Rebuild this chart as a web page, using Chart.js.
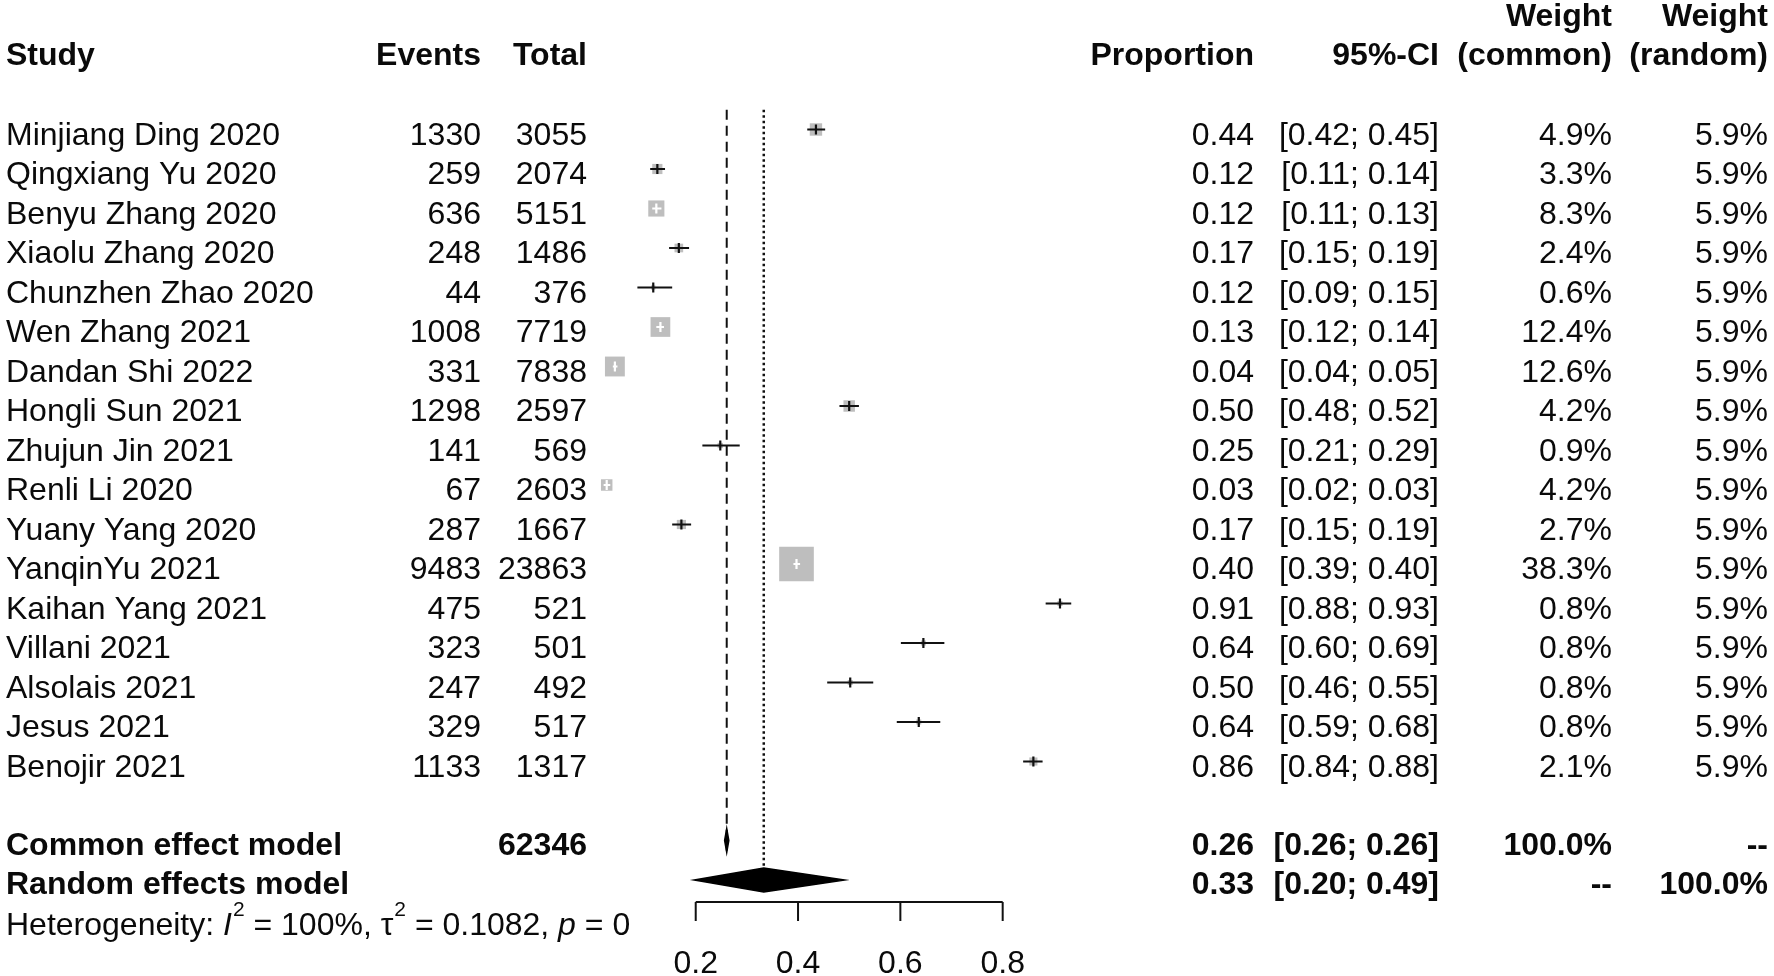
<!DOCTYPE html>
<html>
<head>
<meta charset="utf-8">
<title>Forest plot</title>
<script src="https://cdn.jsdelivr.net/npm/chart.js@4.4.1/dist/chart.umd.min.js"></script>
<style>
  html, body { margin: 0; padding: 0; background: #fff; }
  #wrap { width: 1774px; height: 976px; position: relative; }
</style>
</head>
<body>
<div id="wrap"><canvas id="forest"></canvas></div>
<script>
const studies = [
  "Minjiang Ding 2020", "Qingxiang Yu 2020", "Benyu Zhang 2020", "Xiaolu Zhang 2020",
  "Chunzhen Zhao 2020", "Wen Zhang 2021", "Dandan Shi 2022", "Hongli Sun 2021",
  "Zhujun Jin 2021", "Renli Li 2020", "Yuany Yang 2020", "YanqinYu 2021",
  "Kaihan Yang 2021", "Villani 2021", "Alsolais 2021", "Jesus 2021", "Benojir 2021"
];
const events = [1330, 259, 636, 248, 44, 1008, 331, 1298, 141, 67, 287, 9483, 475, 323, 247, 329, 1133];
const totals = [3055, 2074, 5151, 1486, 376, 7719, 7838, 2597, 569, 2603, 1667, 23863, 521, 501, 492, 517, 1317];

// point estimates and CI limits
const proportion = [0.435, 0.125, 0.123, 0.167, 0.117, 0.131, 0.042, 0.500, 0.248, 0.026, 0.172, 0.397, 0.912, 0.645, 0.502, 0.636, 0.860];
const ciLow  = [0.418, 0.111, 0.115, 0.148, 0.086, 0.123, 0.038, 0.481, 0.213, 0.020, 0.154, 0.391, 0.884, 0.601, 0.457, 0.593, 0.840];
const ciHigh = [0.453, 0.140, 0.133, 0.187, 0.154, 0.138, 0.047, 0.519, 0.286, 0.033, 0.191, 0.404, 0.934, 0.686, 0.547, 0.678, 0.878];

const propLabels = ["0.44", "0.12", "0.12", "0.17", "0.12", "0.13", "0.04", "0.50", "0.25", "0.03", "0.17", "0.40", "0.91", "0.64", "0.50", "0.64", "0.86"];
const ciLabels = [
  "[0.42; 0.45]", "[0.11; 0.14]", "[0.11; 0.13]", "[0.15; 0.19]", "[0.09; 0.15]", "[0.12; 0.14]",
  "[0.04; 0.05]", "[0.48; 0.52]", "[0.21; 0.29]", "[0.02; 0.03]", "[0.15; 0.19]", "[0.39; 0.40]",
  "[0.88; 0.93]", "[0.60; 0.69]", "[0.46; 0.55]", "[0.59; 0.68]", "[0.84; 0.88]"
];
const weightCommon = [4.9, 3.3, 8.3, 2.4, 0.6, 12.4, 12.6, 4.2, 0.9, 4.2, 2.7, 38.3, 0.8, 0.8, 0.8, 0.8, 2.1];
const weightRandom = [5.9, 5.9, 5.9, 5.9, 5.9, 5.9, 5.9, 5.9, 5.9, 5.9, 5.9, 5.9, 5.9, 5.9, 5.9, 5.9, 5.9];

const pooledNames = ["Common effect model", "Random effects model"];
const pooledEst  = [0.2606, 0.333];
const pooledLow  = [0.2565, 0.197];
const pooledHigh = [0.2647, 0.491];
const pooledProp = ["0.26", "0.33"];
const pooledCI = ["[0.26; 0.26]", "[0.20; 0.49]"];
const pooledWCommon = ["100.0%", "--"];
const pooledWRandom = ["--", "100.0%"];
const totalAll = "62346";

const axisTicks = [0.2, 0.4, 0.6, 0.8];
const heterogeneity = [
  ["Heterogeneity: ", "n"], ["I", "i"], ["2", "s"], [" = 100%, ", "n"],
  ["\u03c4", "n"], ["2", "s"], [" = 0.1082, ", "n"], ["p", "i"], [" = 0", "n"]
];

const FONT = '"Liberation Sans", Arial, Helvetica, sans-serif';
const cols = { study: 6, events: 481, total: 587, prop: 1254, ci: 1439, wCommon: 1612, wRandom: 1768 };
const commonRow = studies.length + 1;
const randomRow = studies.length + 2;

function squareSide(w) {
  return 5.6 * Math.sqrt(w);
}

function put(ctx, str, x, y, align, weight) {
  ctx.font = (weight || "normal") + " 32px " + FONT;
  ctx.textAlign = align || "left";
  ctx.textBaseline = "alphabetic";
  ctx.fillStyle = "#0a0a0a";
  ctx.fillText(str, x, y);
}

function diamond(ctx, xs, ys, est, lo, hi, row) {
  const cy = ys.getPixelForValue(row);
  ctx.beginPath();
  ctx.moveTo(xs.getPixelForValue(lo), cy);
  ctx.lineTo(xs.getPixelForValue(est), cy - 12);
  ctx.lineTo(xs.getPixelForValue(hi), cy);
  ctx.lineTo(xs.getPixelForValue(est), cy + 12);
  ctx.closePath();
  ctx.fillStyle = "#000";
  ctx.fill();
  ctx.lineWidth = 1.5;
  ctx.strokeStyle = "#000";
  ctx.stroke();
}

const forestPlugin = {
  id: "forest",
  beforeDatasetsDraw(chart) {
    const { ctx, scales: { x, y } } = chart;
    const top = y.getPixelForValue(-0.5);
    ctx.save();
    ctx.strokeStyle = "#111";
    ctx.lineWidth = 2;
    // common effect reference (dashed)
    ctx.setLineDash([10, 6]);
    ctx.beginPath();
    ctx.moveTo(x.getPixelForValue(pooledEst[0]), top);
    ctx.lineTo(x.getPixelForValue(pooledEst[0]), y.getPixelForValue(commonRow) + 10);
    ctx.stroke();
    // random effects reference (dotted)
    ctx.lineWidth = 2.5;
    ctx.setLineDash([2.5, 3]);
    ctx.beginPath();
    ctx.moveTo(x.getPixelForValue(pooledEst[1]), top);
    ctx.lineTo(x.getPixelForValue(pooledEst[1]), y.getPixelForValue(randomRow) - 12);
    ctx.stroke();
    ctx.restore();
  },
  afterDatasetsDraw(chart) {
    const { ctx, scales: { x, y } } = chart;
    ctx.save();

    // CI lines and estimate ticks
    studies.forEach((s, i) => {
      const cy = y.getPixelForValue(i);
      const cx = x.getPixelForValue(proportion[i]);
      const x1 = x.getPixelForValue(ciLow[i]);
      const x2 = x.getPixelForValue(ciHigh[i]);
      const half = squareSide(weightCommon[i]) / 2;
      const inside = x1 >= cx - half && x2 <= cx + half;
      ctx.strokeStyle = inside ? "#fff" : "#111";
      ctx.lineWidth = 2.2;
      ctx.beginPath();
      ctx.moveTo(x1, cy);
      ctx.lineTo(x2, cy);
      ctx.moveTo(cx, cy - 5);
      ctx.lineTo(cx, cy + 5);
      ctx.stroke();
    });

    // pooled diamonds
    pooledEst.forEach((e, k) => {
      diamond(ctx, x, y, e, pooledLow[k], pooledHigh[k], commonRow + k);
    });

    // x axis, only across the tick range
    const axisY = y.getPixelForValue(randomRow) + 22;
    ctx.strokeStyle = "#111";
    ctx.lineWidth = 2;
    ctx.beginPath();
    ctx.moveTo(x.getPixelForValue(axisTicks[0]), axisY);
    ctx.lineTo(x.getPixelForValue(axisTicks[axisTicks.length - 1]), axisY);
    axisTicks.forEach(t => {
      ctx.moveTo(x.getPixelForValue(t), axisY);
      ctx.lineTo(x.getPixelForValue(t), axisY + 19);
    });
    ctx.stroke();
    axisTicks.forEach(t => put(ctx, t.toFixed(1), x.getPixelForValue(t), axisY + 71, "center"));

    // header
    const h1 = y.getPixelForValue(-3) + 15;
    const h2 = y.getPixelForValue(-2) + 14;
    put(ctx, "Weight", cols.wCommon, h1, "right", "bold");
    put(ctx, "Weight", cols.wRandom, h1, "right", "bold");
    put(ctx, "Study", cols.study, h2, "left", "bold");
    put(ctx, "Events", cols.events, h2, "right", "bold");
    put(ctx, "Total", cols.total, h2, "right", "bold");
    put(ctx, "Proportion", cols.prop, h2, "right", "bold");
    put(ctx, "95%-CI", cols.ci, h2, "right", "bold");
    put(ctx, "(common)", cols.wCommon, h2, "right", "bold");
    put(ctx, "(random)", cols.wRandom, h2, "right", "bold");

    // study rows
    studies.forEach((s, i) => {
      const b = y.getPixelForValue(i) + 15;
      put(ctx, s, cols.study, b, "left");
      put(ctx, String(events[i]), cols.events, b, "right");
      put(ctx, String(totals[i]), cols.total, b, "right");
      put(ctx, propLabels[i], cols.prop, b, "right");
      put(ctx, ciLabels[i], cols.ci, b, "right");
      put(ctx, weightCommon[i].toFixed(1) + "%", cols.wCommon, b, "right");
      put(ctx, weightRandom[i].toFixed(1) + "%", cols.wRandom, b, "right");
    });

    // pooled rows
    pooledNames.forEach((n, k) => {
      const b = y.getPixelForValue(commonRow + k) + 14;
      put(ctx, n, cols.study, b, "left", "bold");
      if (k === 0) put(ctx, totalAll, cols.total, b, "right", "bold");
      put(ctx, pooledProp[k], cols.prop, b, "right", "bold");
      put(ctx, pooledCI[k], cols.ci, b, "right", "bold");
      put(ctx, pooledWCommon[k], cols.wCommon, b, "right", "bold");
      put(ctx, pooledWRandom[k], cols.wRandom, b, "right", "bold");
    });

    // heterogeneity line
    let hx = cols.study;
    const hb = y.getPixelForValue(randomRow + 1) + 15.5;
    ctx.textAlign = "left";
    ctx.fillStyle = "#0a0a0a";
    heterogeneity.forEach(([str, kind]) => {
      if (kind === "s") {
        ctx.font = "normal 21px " + FONT;
        ctx.fillText(str, hx + 1, hb - 19);
        hx += ctx.measureText(str).width + 1;
      } else {
        ctx.font = (kind === "i" ? "italic " : "normal ") + "32px " + FONT;
        ctx.fillText(str, hx, hb);
        hx += ctx.measureText(str).width;
      }
    });

    ctx.restore();
  }
};

// x scale spans 0..1 so squares left of 0.2 and right of 0.8 stay inside the chart area
const chart = new Chart(document.getElementById("forest"), {
  type: "scatter",
  data: {
    datasets: [{
      data: proportion.map((p, i) => ({ x: p, y: i })),
      pointStyle: "rect",
      pointRadius: weightCommon.map(w => squareSide(w) / Math.SQRT2),
      backgroundColor: "#bebebe",
      borderWidth: 0,
      clip: false
    }]
  },
  options: {
    responsive: true,
    maintainAspectRatio: false,
    animation: false,
    events: [],
    layout: {
      autoPadding: false,
      padding: { left: 593.4, right: 669, top: 129.5, bottom: 96 }
    },
    plugins: {
      legend: { display: false },
      tooltip: { enabled: false }
    },
    scales: {
      x: { type: "linear", min: 0, max: 1, display: false },
      y: { type: "linear", min: 0, max: 19, reverse: true, display: false }
    }
  },
  plugins: [forestPlugin]
});
</script>
</body>
</html>
